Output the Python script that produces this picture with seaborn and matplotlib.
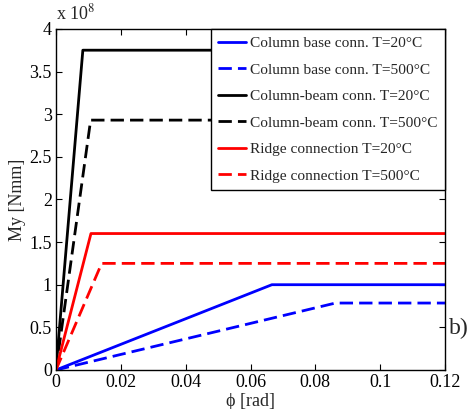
import pandas as pd
import seaborn as sns
import matplotlib
matplotlib.use('Agg')
import matplotlib.pyplot as plt

# rotation [rad] and moment [Nmm] for each connection (trilinear curves)
base_20_x = [0.0, 0.0666, 0.12]
base_20_y = [0.0, 1.0e8, 1.0e8]
base_500_x = [0.0, 0.0862, 0.12]
base_500_y = [0.0, 0.785e8, 0.785e8]
beam_20_x = [0.0, 0.0083, 0.12]
beam_20_y = [0.0, 3.75e8, 3.75e8]
beam_500_x = [0.0, 0.0107, 0.12]
beam_500_y = [0.0, 2.93e8, 2.93e8]
ridge_20_x = [0.0, 0.0108, 0.12]
ridge_20_y = [0.0, 1.6e8, 1.6e8]
ridge_500_x = [0.0, 0.0141, 0.12]
ridge_500_y = [0.0, 1.25e8, 1.25e8]

labels = ['Column base conn. T=20°C', 'Column base conn. T=500°C',
          'Column-beam conn. T=20°C', 'Column-beam conn. T=500°C',
          'Ridge connection T=20°C', 'Ridge connection T=500°C']

series = [
    (base_20_x, base_20_y, 'blue', '-'),
    (base_500_x, base_500_y, 'blue', '--'),
    (beam_20_x, beam_20_y, 'black', '-'),
    (beam_500_x, beam_500_y, 'black', '--'),
    (ridge_20_x, ridge_20_y, 'red', '-'),
    (ridge_500_x, ridge_500_y, 'red', '--'),
]

sns.set_style('ticks')
plt.rcParams['font.family'] = ['Liberation Serif', 'DejaVu Serif']
plt.rcParams['mathtext.fontset'] = 'stix'

fig = plt.figure(figsize=(4.7, 4.09), dpi=100)
ax = fig.add_axes([0.119, 0.0954, 0.828, 0.834])

for (xs, ys, color, ls), label in zip(series, labels):
    df = pd.DataFrame({'x': xs, 'y': [v / 1e8 for v in ys]})
    sns.lineplot(x='x', y='y', data=df, ax=ax, color=color, linestyle=ls,
                 linewidth=2, label=label, sort=False, estimator=None)
    if ls == '--':
        ax.lines[-1].set_dashes((4.8, 2.2))

ax.set_xlim(0, 0.12)
ax.set_ylim(0, 4)
ax.set_xticks([0, 0.02, 0.04, 0.06, 0.08, 0.1, 0.12])
ax.set_xticklabels(['0', '0.02', '0.04', '0.06', '0.08', '0.1', '0.12'])
ax.set_yticks([0, 0.5, 1, 1.5, 2, 2.5, 3, 3.5, 4])
ax.set_yticklabels(['0', '0.5', '1', '1.5', '2', '2.5', '3', '3.5', '4'])
ax.tick_params(direction='in', top=True, right=True, labelsize=13, length=4,
               width=0.8, pad=3, colors='black')
for sp in ax.spines.values():
    sp.set_linewidth(1.0)
    sp.set_color('black')

ax.set_xlabel('ϕ [rad]', fontsize=13, labelpad=1)
ax.set_ylabel('My [Nmm]', fontsize=13, labelpad=2)
ax.text(0.0, 1.015, r'x 10$^{8}$', transform=ax.transAxes, fontsize=13,
        ha='left', va='bottom')
ax.text(1.01, 0.09, 'b)', transform=ax.transAxes, fontsize=17,
        ha='left', va='bottom')

leg = ax.legend(loc='upper right', borderaxespad=0, fontsize=11.1,
                handlelength=1.8, handletextpad=0.25, labelspacing=0.82,
                fancybox=False, framealpha=1, borderpad=0.5)
leg.get_frame().set_edgecolor('black')
leg.get_frame().set_linewidth(1.0)

fig.savefig('out.png', dpi=100)
